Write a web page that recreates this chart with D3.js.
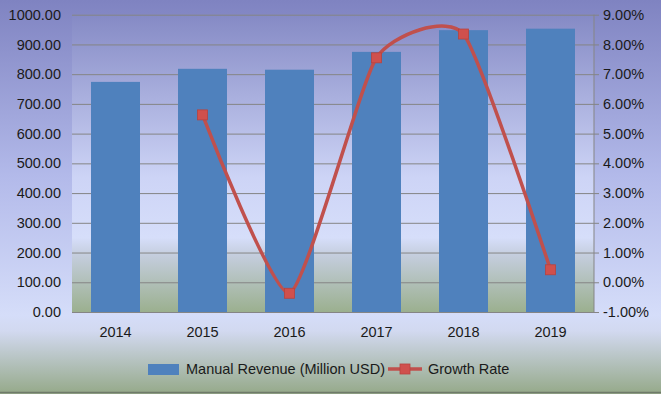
<!DOCTYPE html>
<html>
<head>
<meta charset="utf-8">
<script src="https://cdn.jsdelivr.net/npm/d3@7"></script>
<style>
  html, body { margin: 0; padding: 0; }
  svg text { font-family: "Liberation Sans", Arial, sans-serif; fill: #1a1a1a; }
</style>
</head>
<body>
<svg id="chart" width="661" height="394"></svg>
<script>
// Data
const years = ["2014", "2015", "2016", "2017", "2018", "2019"];
const revenue = [774, 818, 815, 875, 948, 953];
const growth = [null, 5.63, -0.37, 7.55, 8.35, 0.42];
const leftTicks = [0, 100, 200, 300, 400, 500, 600, 700, 800, 900, 1000];
const rightTicks = [-1, 0, 1, 2, 3, 4, 5, 6, 7, 8, 9];
const seriesNames = ["Manual Revenue (Million USD)", "Growth Rate"];

const W = 661, H = 394;
const margin = { top: 14.7, right: 67, bottom: 82, left: 72 };
const width = W - margin.left - margin.right;
const height = 312 - margin.top;

const svg = d3.select("#chart");
const defs = svg.append("defs");

// background gradients
function grad(id, stops) {
  const g = defs.append("linearGradient").attr("id", id)
    .attr("x1", 0).attr("y1", 0).attr("x2", 0).attr("y2", 1);
  stops.forEach(s => g.append("stop").attr("offset", s[0]).attr("stop-color", s[1]));
}
grad("bg-outer", [[0, "#7f83c1"], [0.45, "#b3baea"], [0.8, "#d5ddf9"], [0.84, "#d2d9f0"], [1, "#95a989"]]);
grad("bg-plot", [[0, "#858ac5"], [0.55, "#cdd4f6"], [0.75, "#d6defa"], [0.81, "#c4cddd"], [1, "#9bb08f"]]);

svg.append("rect").attr("width", W).attr("height", H).attr("fill", "url(#bg-outer)");
svg.append("line").attr("x1", 0).attr("x2", W).attr("y1", H - 1.5).attr("y2", H - 1.5)
  .attr("stroke", "#6f7a6a").attr("stroke-width", 1.5);

const g = svg.append("g").attr("transform", `translate(${margin.left},${margin.top})`);

g.append("rect").attr("width", width).attr("height", height).attr("fill", "url(#bg-plot)");

// scales
const x = d3.scaleBand().domain(years).range([0, width]).paddingInner(0.437).paddingOuter(0.2185);
const y = d3.scaleLinear().domain([0, 1000]).range([height, 0]);
const y2 = d3.scaleLinear().domain([-1, 9]).range([height, 0]);

// grid
g.append("g")
  .call(d3.axisLeft(y).tickValues(leftTicks).tickSize(-width).tickFormat(""))
  .call(a => a.select(".domain").remove())
  .call(a => a.selectAll(".tick line").attr("stroke", "#858585").attr("stroke-width", 1));

// bars
g.selectAll(".bar")
  .data(revenue)
  .enter().append("rect")
  .attr("class", "bar")
  .attr("x", (d, i) => x(years[i]))
  .attr("y", d => y(d))
  .attr("width", x.bandwidth())
  .attr("height", d => height - y(d))
  .attr("fill", "#4f81bd");

// left axis labels
g.append("g")
  .call(d3.axisLeft(y).tickValues(leftTicks).tickSize(0).tickPadding(11).tickFormat(d => d.toFixed(2)))
  .call(a => a.select(".domain").remove())
  .call(a => a.selectAll("text").style("font-size", "14.5px").attr("fill", "#1a1a1a"));

// right axis
g.append("g")
  .attr("transform", `translate(${width},0)`)
  .call(d3.axisRight(y2).tickValues(rightTicks).tickSize(5).tickPadding(4).tickFormat(d => d.toFixed(2) + "%"))
  .call(a => a.select(".domain").attr("stroke", "#858585").attr("d", `M0,0V${height}`))
  .call(a => a.selectAll(".tick line").attr("stroke", "#858585"))
  .call(a => a.selectAll("text").style("font-size", "14.5px").attr("fill", "#1a1a1a"));

// x axis labels
g.append("g")
  .attr("transform", `translate(0,${height})`)
  .call(d3.axisBottom(x).tickSize(0).tickPadding(15))
  .call(a => a.select(".domain").remove())
  .call(a => a.selectAll("text").style("font-size", "14.5px").attr("fill", "#1a1a1a"));

// growth line (smoothed)
const pts = growth.map((v, i) => ({ year: years[i], v })).filter(d => d.v !== null);
const line = d3.line()
  .x(d => x(d.year) + x.bandwidth() / 2)
  .y(d => y2(d.v))
  .curve(d3.curveCardinal.tension(0.45));

g.append("path")
  .datum(pts)
  .attr("d", line)
  .attr("fill", "none")
  .attr("stroke", "#c0504d")
  .attr("stroke-width", 3.5);

g.selectAll(".mk")
  .data(pts)
  .enter().append("rect")
  .attr("class", "mk")
  .attr("x", d => x(d.year) + x.bandwidth() / 2 - 5)
  .attr("y", d => y2(d.v) - 5)
  .attr("width", 10).attr("height", 10)
  .attr("fill", "#d0504d")
  .attr("stroke", "#b8423f").attr("stroke-width", 0.8);

// legend
const lg = svg.append("g").attr("transform", "translate(0,369)");
lg.append("rect").attr("x", 148).attr("y", -5).attr("width", 31).attr("height", 11).attr("fill", "#4f81bd");
lg.append("text").attr("x", 186).attr("y", 5).style("font-size", "14.5px").text(seriesNames[0]);
lg.append("line").attr("x1", 388).attr("x2", 422).attr("y1", 0).attr("y2", 0)
  .attr("stroke", "#c0504d").attr("stroke-width", 3.5);
lg.append("rect").attr("x", 400).attr("y", -5).attr("width", 10).attr("height", 10)
  .attr("fill", "#d0504d").attr("stroke", "#b8423f").attr("stroke-width", 0.8);
lg.append("text").attr("x", 428).attr("y", 5).style("font-size", "14.5px").text(seriesNames[1]);
</script>
</body>
</html>
